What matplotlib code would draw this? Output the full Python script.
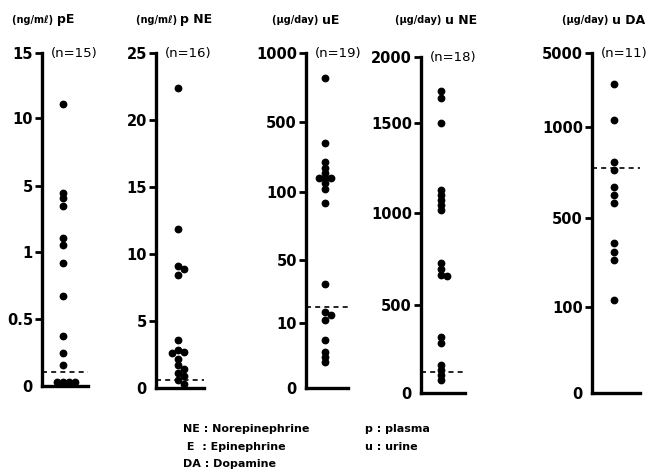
#!/usr/bin/env python3
"""
Catecholamine levels, dot plot per marker (plasma / urine).
Each panel has its own broken (piecewise linear) y scale.
"""

import numpy as np
import matplotlib
matplotlib.use("Agg")
import matplotlib.pyplot as plt

plt.rcParams["font.family"] = ["Liberation Sans Narrow", "DejaVu Sans"]
plt.rcParams["font.weight"] = "bold"

# --- data -------------------------------------------------------------
units = ["(ng/mℓ)", "(ng/mℓ)", "(µg/day)", "(µg/day)", "(µg/day)"]
names = ["pE", "p NE", "uE", "u NE", "u DA"]
counts = [15, 16, 19, 18, 11]

tick_vals = [
    [0, 0.5, 1, 5, 10, 15],
    [0, 5, 10, 15, 20, 25],
    [0, 10, 50, 100, 500, 1000],
    [0, 500, 1000, 1500, 2000],
    [0, 100, 500, 1000, 5000],
]

pE = [11.1, 4.6, 4.3, 3.8, 1.85, 1.4, 0.92, 0.67, 0.37, 0.25, 0.16,
      0.03, 0.03, 0.03, 0.03]
pNE = [22.4, 11.9, 9.1, 8.9, 8.4, 3.6, 2.8, 2.7, 2.6, 2.2, 1.7, 1.4,
       1.1, 0.9, 0.6, 0.3]
uE = [820, 380, 270, 237, 209, 180, 180, 180, 151, 117, 92, 35, 17, 15,
      12, 7.4, 5.5, 4.8, 4.0]
uNE = [1740, 1690, 1500, 1128, 1100, 1072, 1044, 1017, 728, 696, 663, 660,
       318, 284, 159, 131, 102, 74]
uDA = [3300, 1380, 808, 764, 670, 626, 582, 388, 347, 311, 131]
series = [pE, pNE, uE, uNE, uDA]

means = [0.105, 0.6, 20, 120, 775]

legend_left = ["NE : Norepinephrine", " E  : Epinephrine", "DA : Dopamine"]
legend_right = ["p : plasma", "u : urine"]

# --- layout (pixels) --------------------------------------------------
W, H = 651, 472
# pixel height of each break on the y axis
break_px = [
    [0, 67, 134, 200, 268, 333],
    [0, 67, 134, 201, 268, 335],
    [0, 65, 128, 196, 266, 335],
    [0, 88, 180, 270, 336],
    [0, 86, 175, 266, 340],
]
spine_x = [42, 156, 306, 421, 592]
ax_w = [46, 48, 42, 44, 48]
base_y = [386, 388, 388, 393, 393]
title_x = [57, 180, 322, 445, 612]

DOT = 6.0  # marker diameter, px


def piecewise_scale(vals, px):
    vals = np.asarray(vals, float)
    px = np.asarray(px, float)

    def fwd(v):
        return np.interp(v, vals, px)

    def inv(p):
        return np.interp(p, px, vals)

    return fwd, inv


def swarm(ax, values, width_px):
    """Shift overlapping dots sideways, returns x in axes data units."""
    pts = np.column_stack([np.zeros(len(values)), values])
    ys = ax.transData.transform(pts)[:, 1]
    placed = []
    xs = []
    for y in ys:
        for k in [0, 1, -1, 2, -2, 3, -3]:
            x = k * DOT
            if all((x - px) ** 2 + (y - py) ** 2 >= (0.7 * DOT) ** 2
                   for px, py in placed):
                break
        placed.append((x, y))
        xs.append(x)
    return 0.45 + np.array(xs) / width_px


fig = plt.figure(figsize=(W / 100, H / 100), dpi=100)

for i in range(5):
    h = break_px[i][-1]
    rect = [spine_x[i] / W, (H - base_y[i]) / H, ax_w[i] / W, h / H]
    ax = fig.add_axes(rect)
    fwd, inv = piecewise_scale(tick_vals[i], break_px[i])
    ax.set_yscale("function", functions=(fwd, inv))
    ax.set_ylim(0, tick_vals[i][-1])
    ax.set_xlim(0, 1)

    ax.set_yticks(tick_vals[i])
    ax.set_yticklabels([f"{v:g}" for v in tick_vals[i]])
    ax.minorticks_off()
    ax.set_xticks([])
    ax.tick_params(axis="y", direction="out", length=5, width=2,
                   pad=1.5, labelsize=10.5)
    ax.yaxis.get_major_ticks()[0].tick1line.set_visible(False)
    for lab in ax.get_yticklabels():
        lab.set_fontweight("bold")

    for s in ["top", "right"]:
        ax.spines[s].set_visible(False)
    ax.spines["left"].set_linewidth(2.4)
    ax.spines["bottom"].set_linewidth(2.4)
    ax.set_facecolor("none")

    xs = swarm(ax, series[i], ax_w[i])
    ax.plot(xs, series[i], "o", color="black", ms=4.6, mec="black",
            clip_on=False)
    ax.plot([0, 1], [means[i], means[i]], color="black", lw=1.2,
            dashes=(3, 2.5), clip_on=False)

    ax.annotate(f"(n={counts[i]})", xy=(0, 1), xycoords="axes fraction",
                xytext=(9, 0), textcoords="offset pixels",
                ha="left", va="center", fontsize=9.5, fontweight="normal")

    fig.text(title_x[i] / W, 1 - 20 / H, units[i] + " ", ha="right",
             va="center", fontsize=7, fontweight="bold")
    fig.text(title_x[i] / W, 1 - 20 / H, names[i], ha="left",
             va="center", fontsize=9, fontweight="bold")

for j, t in enumerate(legend_left):
    fig.text(183 / W, 1 - (429 + 17.5 * j) / H, t, ha="left", va="center",
             fontsize=8, fontweight="bold")
for j, t in enumerate(legend_right):
    fig.text(365 / W, 1 - (429 + 17.5 * j) / H, t, ha="left", va="center",
             fontsize=8, fontweight="bold")

fig.savefig("out.png", dpi=100, facecolor="white")
